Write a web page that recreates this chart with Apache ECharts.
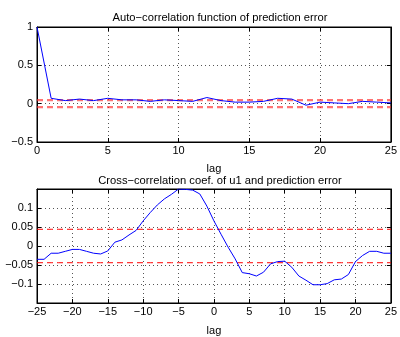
<!DOCTYPE html>
<html>
<head>
<meta charset="utf-8">
<script src="https://cdn.jsdelivr.net/npm/echarts@6/dist/echarts.min.js"></script>
<style>
  html, body { margin: 0; padding: 0; background: #fff; }
  #chart { width: 400px; height: 337px; }
</style>
</head>
<body>
<div id="chart"></div>
<script>
// auto-correlation, lags 0..25
const acfLags = [0,1,2,3,4,5,6,7,8,9,10,11,12,13,14,15,16,17,18,19,20,21,22,23,24,25];
const acfValues = [1, 0.07, 0.04, 0.06, 0.04, 0.07, 0.05, 0.05, 0.03, 0.05, 0.04, 0.03, 0.08,
  0.04, 0.02, 0.02, 0.03, 0.07, 0.06, -0.02, 0.02, 0.01, 0.00, 0.03, 0.02, 0.01];

// cross-correlation, lags -25..25
const ccfLags = [];
for (let k = -25; k <= 25; k++) ccfLags.push(k);
const ccfValues = [-0.035, -0.035, -0.019, -0.019, -0.014, -0.009, -0.009, -0.014, -0.019, -0.021,
  -0.013, 0.010, 0.016, 0.029, 0.041, 0.066, 0.088, 0.108, 0.124, 0.136,
  0.150, 0.149, 0.147, 0.137, 0.105, 0.066, 0.031, -0.003, -0.034, -0.070,
  -0.073, -0.079, -0.069, -0.047, -0.041, -0.040, -0.056, -0.079, -0.090, -0.102,
  -0.102, -0.099, -0.089, -0.087, -0.075, -0.041, -0.025, -0.014, -0.014, -0.019, -0.019];

// confidence bounds
const acfBound = 0.045;
const ccfBound = 0.044;

const font = 'Liberation Sans, Arial, Helvetica, sans-serif';
const minus = (v) => {
  const r = Math.round(v * 1000) / 1000;
  return String(r).replace('-', '\u2212');
};

const myChart = echarts.init(document.getElementById('chart'));

const baseX = (gridIndex, min, max) => ({
  type: 'value',
  gridIndex: gridIndex,
  min: min,
  max: max,
  interval: 5,
  axisLine: { show: true, onZero: false, lineStyle: { color: '#000', width: 1 } },
  axisTick: { show: true, inside: true, length: 4, lineStyle: { color: '#000' } },
  axisLabel: { color: '#000', fontSize: 11, fontFamily: font, margin: 3, formatter: minus },
  splitLine: { show: true, lineStyle: { color: '#555', type: [1, 3], width: 1 } }
});

const baseY = (gridIndex, min, max, interval) => ({
  type: 'value',
  gridIndex: gridIndex,
  min: min,
  max: max,
  interval: interval,
  axisLine: { show: true, onZero: false, lineStyle: { color: '#000', width: 1 } },
  axisTick: { show: true, inside: true, length: 4, lineStyle: { color: '#000' } },
  axisLabel: { color: '#000', fontSize: 11, fontFamily: font, margin: 4, formatter: minus },
  splitLine: { show: true, lineStyle: { color: '#555', type: [1, 3], width: 1 } }
});

const mirror = (axis, pos) => Object.assign({}, axis, {
  position: pos,
  axisLabel: { show: false },
  splitLine: { show: false },
  name: ''
});

const x0 = Object.assign(baseX(0, 0, 25), {
  name: 'lag', nameLocation: 'middle', nameGap: 21,
  nameTextStyle: { color: '#000', fontSize: 11, fontFamily: font }
});
const x1 = Object.assign(baseX(1, -25, 25), {
  name: 'lag', nameLocation: 'middle', nameGap: 22,
  nameTextStyle: { color: '#000', fontSize: 11, fontFamily: font }
});
const y0 = baseY(0, -0.5, 1, 0.5);
const y1 = baseY(1, -0.15, 0.15, 0.05);
y1.axisLabel.showMinLabel = false;
y1.axisLabel.showMaxLabel = false;

const option = {
  animation: false,
  backgroundColor: '#fff',
  title: [
    { text: 'Auto\u2212correlation function of prediction error', left: 215, top: 7, textAlign: 'center',
      textStyle: { fontSize: 11.2, fontWeight: 'normal', color: '#000', fontFamily: font } },
    { text: 'Cross\u2212correlation coef. of u1 and prediction error', left: 215, top: 170, textAlign: 'center',
      textStyle: { fontSize: 11.2, fontWeight: 'normal', color: '#000', fontFamily: font } }
  ],
  grid: [
    { left: 37, right: 7, top: 27, height: 115, show: true, borderColor: '#000', borderWidth: 1 },
    { left: 37, right: 7, top: 189, height: 115, show: true, borderColor: '#000', borderWidth: 1 }
  ],
  xAxis: [x0, mirror(baseX(0, 0, 25), 'top'), x1, mirror(baseX(1, -25, 25), 'top')],
  yAxis: [y0, mirror(baseY(0, -0.5, 1, 0.5), 'right'), y1, mirror(baseY(1, -0.15, 0.15, 0.05), 'right')],
  series: [
    {
      type: 'line', xAxisIndex: 0, yAxisIndex: 0, symbol: 'none',
      data: acfLags.map((l) => [l, acfBound]),
      lineStyle: { color: 'rgba(255,40,40,0.65)', width: 2.2, type: [6, 4] }, z: 2
    },
    {
      type: 'line', xAxisIndex: 0, yAxisIndex: 0, symbol: 'none',
      data: acfLags.map((l) => [l, -acfBound]),
      lineStyle: { color: 'rgba(255,40,40,0.65)', width: 2.2, type: [6, 4] }, z: 2
    },
    {
      type: 'line', xAxisIndex: 0, yAxisIndex: 0, symbol: 'none',
      data: acfLags.map((l, i) => [l, acfValues[i]]),
      lineStyle: { color: '#0000ff', width: 1 }, z: 3
    },
    {
      type: 'line', xAxisIndex: 2, yAxisIndex: 2, symbol: 'none',
      data: ccfLags.map((l) => [l, ccfBound]),
      lineStyle: { color: '#ff0000', width: 1, type: [6, 4] }, z: 2
    },
    {
      type: 'line', xAxisIndex: 2, yAxisIndex: 2, symbol: 'none',
      data: ccfLags.map((l) => [l, -ccfBound]),
      lineStyle: { color: '#ff0000', width: 1, type: [6, 4] }, z: 2
    },
    {
      type: 'line', xAxisIndex: 2, yAxisIndex: 2, symbol: 'none',
      data: ccfLags.map((l, i) => [l, ccfValues[i]]),
      lineStyle: { color: '#0000ff', width: 1 }, z: 3
    }
  ]
};

myChart.setOption(option);
</script>
</body>
</html>
